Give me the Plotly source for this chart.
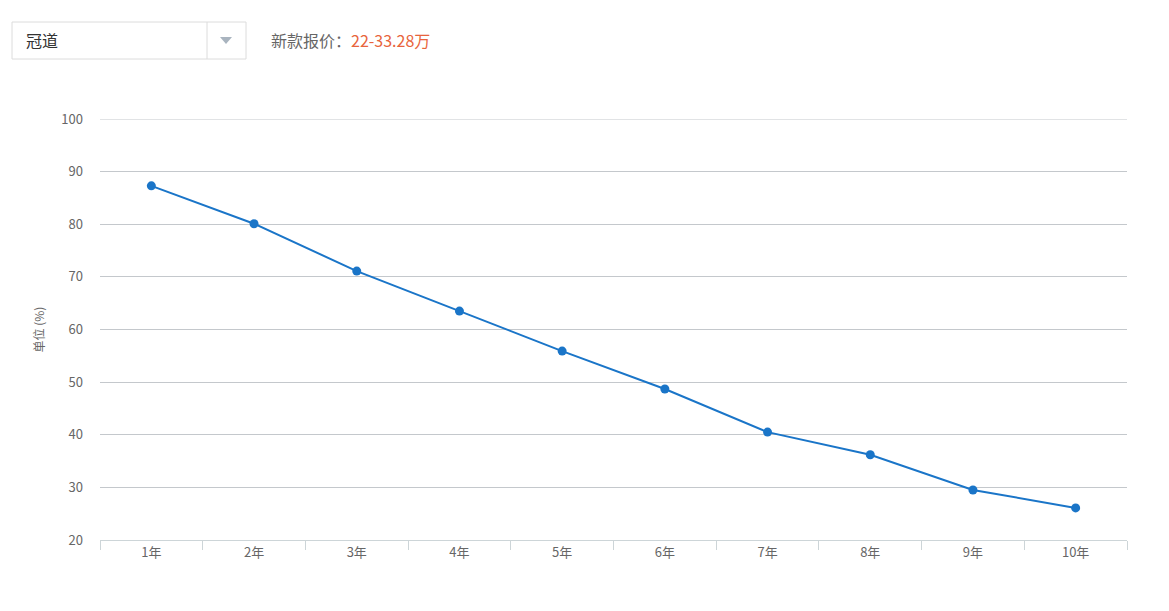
import plotly.graph_objects as go

categories = ["1年", "2年", "3年", "4年", "5年", "6年", "7年", "8年", "9年", "10年"]
values = [87.3, 80.1, 71.1, 63.5, 55.9, 48.7, 40.5, 36.2, 29.5, 26.1]
y_ticks = [20, 30, 40, 50, 60, 70, 80, 90, 100]
model_name = "冠道"
price_label = "新款报价："
price_value = "22-33.28万"

OFF = 8  # page body margin
W, H = 1153, 595
L, T = 100 - OFF, 119 - OFF
PW, PH = 1027, 421
R = W - L - PW
B = H - T - PH

def px(x):
    return (x - OFF - L) / PW

def py(y):
    return 1 - (y - OFF - T) / PH

FONT = "Noto Sans CJK SC, Microsoft YaHei, sans-serif"

fig = go.Figure()
fig.add_trace(go.Scatter(
    x=categories, y=values, mode="lines+markers",
    line=dict(color="#1a75c8", width=2),
    marker=dict(color="#1a75c8", size=9),
    hoverinfo="x+y", showlegend=False,
))

shapes = [
    dict(type="line", xref="paper", yref="y", x0=0, x1=1, y0=y_ticks[-1], y1=y_ticks[-1],
         line=dict(color="#c4c8cc", width=1), layer="below"),
    # dropdown box
    dict(type="rect", xref="paper", yref="paper", x0=px(12), x1=px(246), y0=py(59), y1=py(22),
         line=dict(color="#dcdcdc", width=1), fillcolor="white", layer="above"),
    dict(type="line", xref="paper", yref="paper", x0=px(207), x1=px(207), y0=py(59), y1=py(22),
         line=dict(color="#dcdcdc", width=1)),
    dict(type="path", xref="paper", yref="paper",
         path=f"M {px(220)} {py(37)} L {px(232)} {py(37)} L {px(226)} {py(44)} Z",
         fillcolor="#a9b4bf", line=dict(width=0)),
]

annotations = [
    dict(text=model_name, xref="paper", yref="paper", x=px(24), y=py(40), xanchor="left", yanchor="middle",
         showarrow=False, font=dict(family=FONT, size=16, color="#333333")),
    dict(text=f"<span style='color:#666666'>{price_label}</span><span style='color:#e8643c'>{price_value}</span>",
         xref="paper", yref="paper", x=px(269), y=py(40), xanchor="left", yanchor="middle",
         showarrow=False, font=dict(family=FONT, size=16)),
]

fig.update_layout(
    width=W, height=H,
    margin=dict(l=L, r=R, t=T, b=B),
    paper_bgcolor="white", plot_bgcolor="white",
    font=dict(family=FONT, size=13, color="#666666"),
    shapes=shapes, annotations=annotations,
    xaxis=dict(
        type="category", range=[-0.5, 9.5], tickson="boundaries",
        ticks="outside", ticklen=9, tickcolor="#cdd5d8", tickwidth=1,
        showline=True, linecolor="#cdd5d8", linewidth=1,
        showgrid=False, zeroline=False, fixedrange=True,
        tickfont=dict(family=FONT, size=13, color="#666666"),
    ),
    yaxis=dict(
        range=[20, 100], tickvals=y_ticks, showgrid=True, gridcolor="#c4c8cc", gridwidth=1,
        zeroline=False, showline=False, ticks="", ticklabelstandoff=16,
        title=dict(text="单位 (%)", font=dict(family=FONT, size=12, color="#666666"), standoff=14),
        tickfont=dict(family=FONT, size=13, color="#666666"), fixedrange=True,
    ),
)

fig.write_html("out.html")
